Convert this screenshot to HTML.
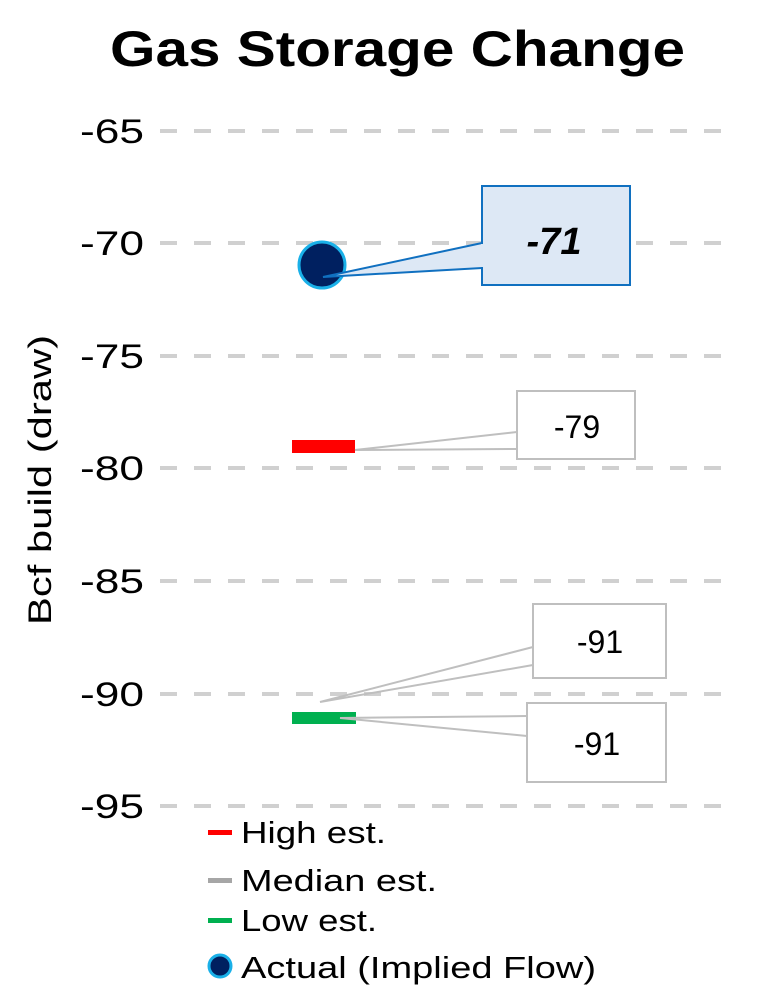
<!DOCTYPE html>
<html><head><meta charset="utf-8"><style>body{margin:0;background:#fff}svg{display:block}text{font-family:"Liberation Sans",sans-serif}</style></head>
<body>
<svg width="776" height="991" viewBox="0 0 776 991">
<text x="110" y="66" font-size="50" font-weight="bold" textLength="575" lengthAdjust="spacingAndGlyphs">Gas Storage Change</text>
<g stroke="#d0d0d0" stroke-width="4" stroke-dasharray="17,17">
<line x1="160" y1="131" x2="725" y2="131"/><line x1="160" y1="243" x2="725" y2="243"/>
<line x1="160" y1="356" x2="725" y2="356"/><line x1="160" y1="468" x2="725" y2="468"/>
<line x1="160" y1="581" x2="725" y2="581"/><line x1="160" y1="694" x2="725" y2="694"/>
<line x1="160" y1="806" x2="725" y2="806"/>
</g>
<g font-size="34">
<text x="80" y="143" textLength="64" lengthAdjust="spacingAndGlyphs">-65</text>
<text x="80" y="255" textLength="64" lengthAdjust="spacingAndGlyphs">-70</text>
<text x="80" y="368" textLength="64" lengthAdjust="spacingAndGlyphs">-75</text>
<text x="80" y="480" textLength="64" lengthAdjust="spacingAndGlyphs">-80</text>
<text x="80" y="593" textLength="64" lengthAdjust="spacingAndGlyphs">-85</text>
<text x="80" y="706" textLength="64" lengthAdjust="spacingAndGlyphs">-90</text>
<text x="80" y="818" textLength="64" lengthAdjust="spacingAndGlyphs">-95</text>
</g>
<text transform="translate(51,480) rotate(-90)" font-size="32" text-anchor="middle" textLength="290" lengthAdjust="spacingAndGlyphs">Bcf build (draw)</text>
<circle cx="322" cy="265" r="23" fill="#002060" stroke="#1ab0e8" stroke-width="3"/>
<path d="M482,243 L323,277 L482,268" fill="#dde8f5" stroke="#1070c0" stroke-width="2"/>
<rect x="482" y="186" width="148" height="99" fill="#dde8f5" stroke="#1070c0" stroke-width="2"/>
<rect x="481" y="244" width="3" height="23" fill="#dde8f5"/>
<text x="554" y="254" font-size="38" font-weight="bold" font-style="italic" text-anchor="middle">-71</text>
<rect x="292" y="440" width="63" height="13" fill="#ff0000"/>
<path d="M517,432 L355,450 L517,449" fill="none" stroke="#bfbfbf" stroke-width="2"/>
<rect x="517" y="391" width="118" height="68" fill="#fff" stroke="#bfbfbf" stroke-width="2"/>
<text x="577" y="438" font-size="32" text-anchor="middle">-79</text>
<rect x="292" y="712" width="64" height="12" fill="#00b050"/>
<path d="M533,647 L320,702 L533,665" fill="none" stroke="#bfbfbf" stroke-width="2"/>
<rect x="533" y="604" width="133" height="74" fill="#fff" stroke="#bfbfbf" stroke-width="2"/>
<text x="600" y="653" font-size="32" text-anchor="middle">-91</text>
<path d="M527,716 L340,718 L527,736" fill="none" stroke="#bfbfbf" stroke-width="2"/>
<rect x="527" y="703" width="139" height="79" fill="#fff" stroke="#bfbfbf" stroke-width="2"/>
<text x="597" y="755" font-size="32" text-anchor="middle">-91</text>
<rect x="208" y="830" width="24" height="5" fill="#ff0000"/>
<rect x="208" y="878" width="24" height="5" fill="#a6a6a6"/>
<rect x="208" y="918" width="24" height="5" fill="#00b050"/>
<circle cx="220" cy="966" r="11" fill="#002060" stroke="#1ab0e8" stroke-width="3"/>
<g font-size="31">
<text x="241" y="843" textLength="145" lengthAdjust="spacingAndGlyphs">High est.</text>
<text x="241" y="891" textLength="196" lengthAdjust="spacingAndGlyphs">Median est.</text>
<text x="241" y="931" textLength="136" lengthAdjust="spacingAndGlyphs">Low est.</text>
<text x="241" y="978" textLength="355" lengthAdjust="spacingAndGlyphs">Actual (Implied Flow)</text>
</g>
</svg>
</body></html>
